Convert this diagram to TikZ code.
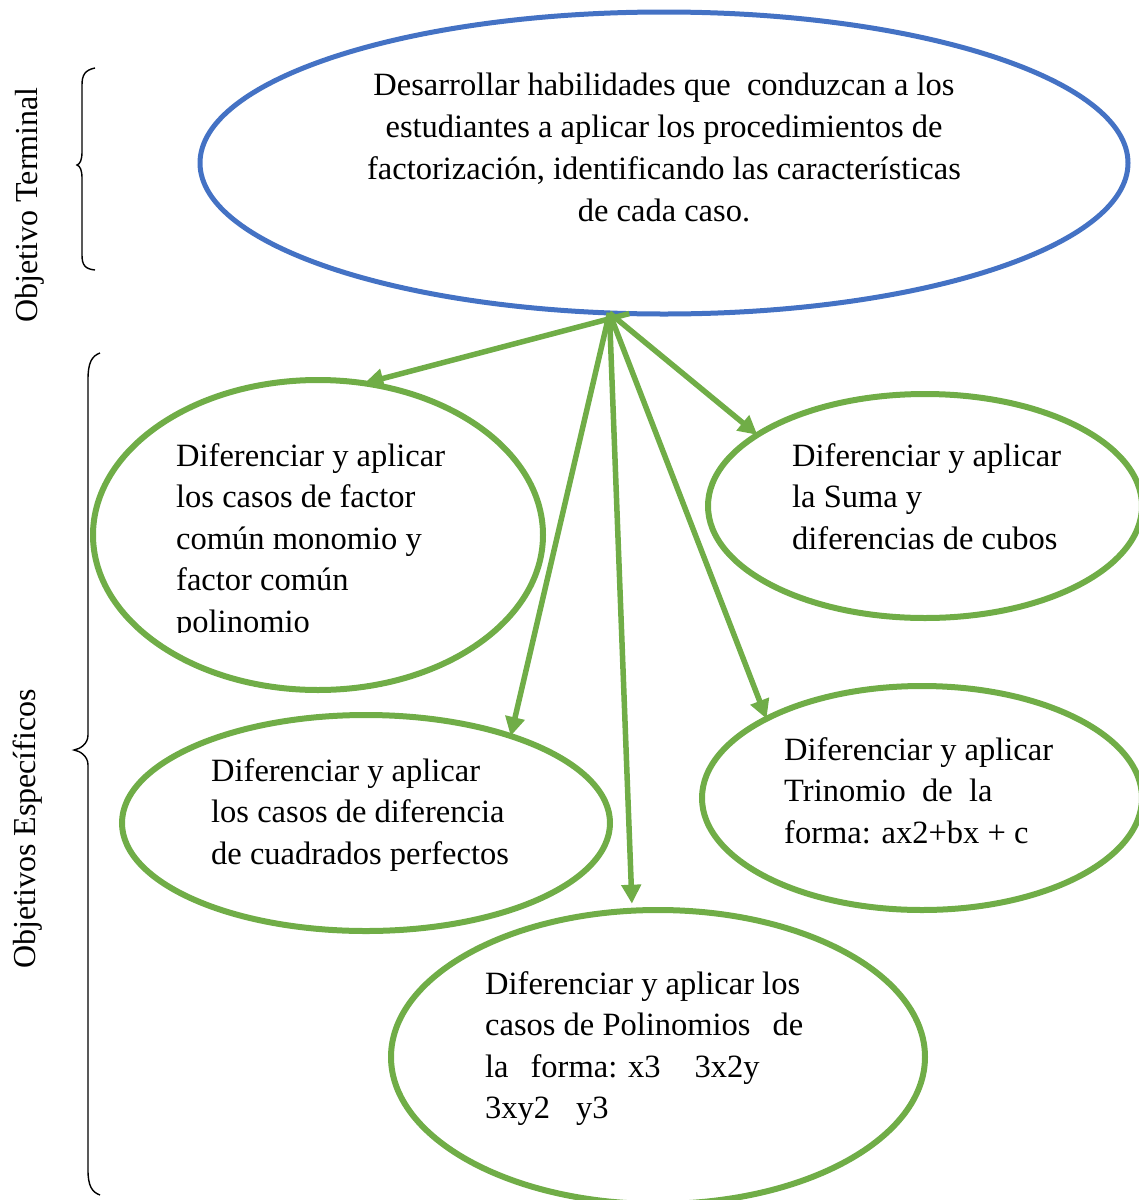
\documentclass[tikz,border=0pt]{standalone}
\usepackage{fontspec}
\setmainfont{Liberation Serif}
\usetikzlibrary{shapes.geometric,arrows.meta}
\definecolor{obBlue}{HTML}{4472C4}
\definecolor{obGreen}{HTML}{70AD47}
\begin{document}
\begin{tikzpicture}[x=1pt,y=-1pt,
  ell/.style 2 args={ellipse,draw=obGreen,line width=6pt,inner sep=0pt,outer sep=0pt,minimum width=#1pt,minimum height=#2pt},
  txt/.style={inner sep=0pt,align=left,anchor=north west,font=\fontsize{32.5}{41.5}\selectfont},
  arr/.style={draw=obGreen,line width=5.5pt,-{Triangle[length=19pt,width=19pt]}},
  brace/.style={draw=black,line width=1.4pt},
  side/.style={font=\fontsize{32}{38}\selectfont,rotate=90,inner sep=0pt}]
\useasboundingbox (0,0) rectangle (1139,1200);
\clip (0,0) rectangle (1139,1200);

% top objective
\node[ellipse,draw=obBlue,line width=5pt,inner sep=0pt,outer sep=0pt,minimum width=928pt,minimum height=302pt] (top) at (664,163) {};
\node[inner sep=0pt,align=center,anchor=north,font=\fontsize{32.5}{42}\selectfont] (toptxt) at (664,73)
  {Desarrollar habilidades que~ conduzcan a los\\estudiantes a aplicar los procedimientos de\\factorización, identificando las características\\de cada caso.};

% specific objectives
\node[ell={450}{310}] (e1) at (318,535) {};
\node[ell={434}{224}] (e2) at (925,506) {};
\node[ell={488}{216}] (e3) at (366,823) {};
\node[ell={440}{224}] (e4) at (922,798) {};
\node[ell={534}{294}] (e5) at (658,1057) {};

\begin{scope}
\clip (0,0) rectangle (1139,632);
\node[txt] (t1) at (176,443) {Diferenciar y aplicar\\los casos de factor\\común monomio y\\factor común\\polinomio};
\end{scope}
\node[txt] (t2) at (792,443) {Diferenciar y aplicar\\la Suma y\\diferencias de cubos};
\node[txt] (t3) at (211,758) {Diferenciar y aplicar\\los casos de diferencia\\de cuadrados perfectos};
\node[txt] (t4) at (784,737) {Diferenciar y aplicar\\Trinomio~ de~ la\\forma: ax2+bx + c};
\node[txt] (t5) at (485,971) {Diferenciar y aplicar los\\casos de Polinomios\hspace{22pt}de\\la\hspace{22pt}forma: x3\hspace{34pt}3x2y\\3xy2\hspace{26pt}y3};

% connectors
\coordinate (src) at (top.250.6);
\coordinate (srcl) at (top.257);
\draw[arr] (srcl) -- (e1.73.9);
\draw[arr] (src) -- (e3.31.7);
\draw[arr,shorten >=7pt] (src) -- (e5.100.1);
\draw[arr] (src) -- (e4.153);
\draw[arr] (src) -- (e2.157.1);

% braces
\draw[brace] (95,68) .. controls (85,70) and (82,75) .. (82,85) -- (82,152)
  .. controls (82,160) and (80,164) .. (77,165)
  .. controls (80,166) and (82,170) .. (82,178) -- (82,255)
  .. controls (82,265) and (85,269) .. (95,270);
\draw[brace] (100,353) .. controls (92,356) and (88,362) .. (88,380) -- (88,735)
  .. controls (88,744) and (80,749) .. (74,750)
  .. controls (80,751) and (88,756) .. (88,765) -- (88,1170)
  .. controls (88,1186) and (92,1192) .. (100,1195);

% side labels
\node[side] (lt) at (30,205) {Objetivo Terminal};
\node[side] (le) at (28,829) {Objetivos Específicos};
\end{tikzpicture}
\end{document}
